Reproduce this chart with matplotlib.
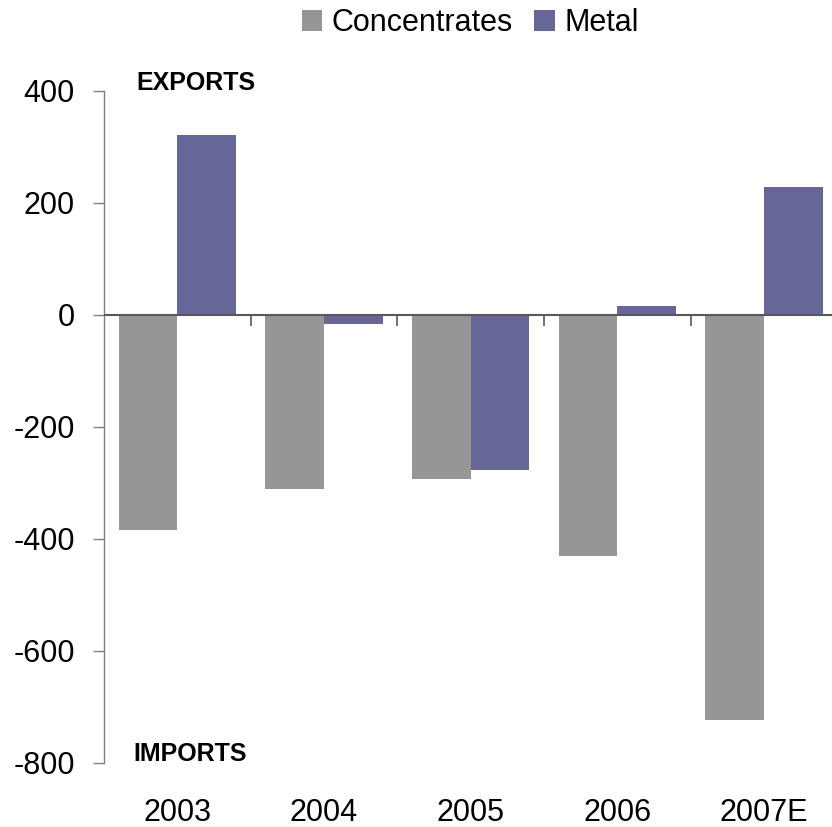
import matplotlib
matplotlib.use("Agg")
import matplotlib.pyplot as plt
import numpy as np

plt.rcParams['font.family'] = ['Liberation Sans', 'DejaVu Sans']

categories = ["2003", "2004", "2005", "2006", "2007E"]
concentrates = [-384, -311, -293, -430, -723]
metal = [321, -16, -277, 16, 229]
yticks = [-800, -600, -400, -200, 0, 200, 400]

c_conc = "#969696"
c_metal = "#666699"

fig = plt.figure(figsize=(8.32, 8.27), dpi=100)
ax = fig.add_axes([104/832, 1-763/827, (837.5-104)/832, (763-91)/827])

x = np.arange(len(categories))
w = 0.4
ax.bar(x - w/2, concentrates, w, color=c_conc, label="Concentrates", zorder=2)
ax.bar(x + w/2, metal, w, color=c_metal, label="Metal", zorder=2)

ax.set_xlim(-0.5, len(categories) - 0.5)
ax.set_ylim(-800, 400)
ax.set_yticks(yticks)
ax.set_yticklabels([str(v) for v in yticks], fontsize=22)
ax.tick_params(axis='y', direction='out', length=8, width=1, color='#808080', pad=13)

for s in ['top', 'right', 'bottom']:
    ax.spines[s].set_visible(False)
ax.spines['left'].set_color('#808080')
ax.spines['left'].set_linewidth(1)

ax.set_xticks(x)
ax.set_xticklabels(categories, fontsize=22)
ax.tick_params(axis='x', length=0, pad=25)

# zero line with boundary ticks
sec = ax.secondary_xaxis(800/1200)
sec.set_xticks(np.arange(len(categories) - 1) + 0.5)
sec.set_xticklabels([])
sec.tick_params(axis='x', direction='in', length=8, width=1.2, color='#595959')
sec.spines['bottom'].set_color('#595959')
sec.spines['bottom'].set_linewidth(1.5)
sec.spines['top'].set_visible(False)
ax.axhline(0, color='#595959', lw=1.5, zorder=3)

ax.text(-0.282, 402, "EXPORTS", fontsize=18, fontweight='bold', va='baseline', ha='left')
ax.text(-0.302, -796, "IMPORTS", fontsize=18, fontweight='bold', va='baseline', ha='left')

fig.legend(loc='center', bbox_to_anchor=(0.565, 0.972), ncol=2, frameon=False,
           fontsize=22, handlelength=0.68, handleheight=0.68, handletextpad=0.3,
           columnspacing=0.7, borderaxespad=0)

fig.savefig("out.png", dpi=100)
